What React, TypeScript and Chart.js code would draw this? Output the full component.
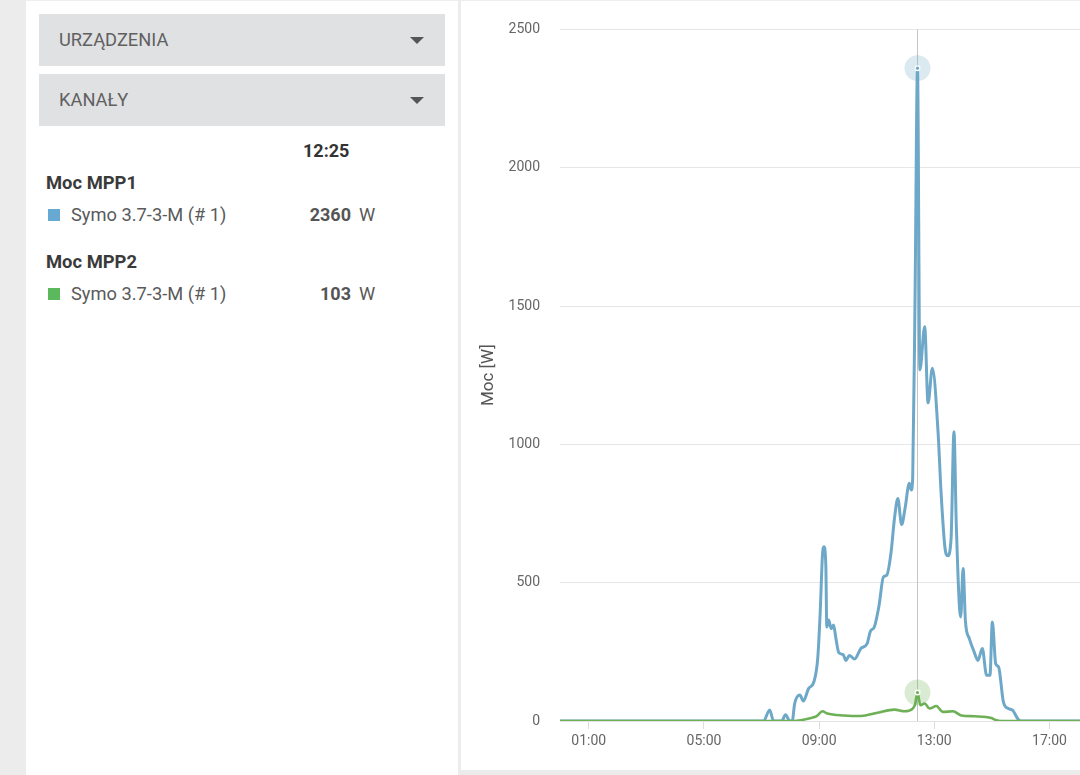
import React, { useEffect, useRef } from "react";
import { Chart, registerables } from "chart.js";

Chart.register(...registerables);

// ---- data ----
const mpp1Times = ["00:00","07:04","07:17","07:25","07:42","07:50","07:59","08:04","08:09","08:20","08:27","08:38","08:49","08:57","09:02","09:07","09:10","09:14","09:16","09:20","09:25","09:30","09:35","09:41","09:50","09:56","10:03","10:14","10:27","10:40","10:47","10:55","11:05","11:14","11:21","11:30","11:37","11:44","11:52","11:59","12:08","12:12","12:15","12:20","12:25","12:30","12:40","12:47","12:56","13:08","13:14","13:22","13:28","13:35","13:41","13:46","13:55","14:00","14:05","14:13","14:23","14:31","14:40","14:49","14:56","15:01","15:08","15:14","15:24","15:34","15:43","15:54","16:00","24:00"];
const mpp1Values = [0,0,40,0,0,23,0,0,63,94,72,117,141,225,383,600,630,560,340,365,334,347,298,247,240,219,237,224,262,280,325,340,419,521,527,611,732,804,710,768,859,835,880,1550,2360,1269,1425,1150,1275,1040,830,630,597,660,1046,700,376,551,358,298,250,219,262,165,165,358,207,195,69,45,39,8,0,0];

const mpp2Times = ["00:00","08:07","08:43","08:55","09:07","09:17","09:52","10:27","11:02","11:37","11:58","12:15","12:20","12:25","12:31","12:40","12:50","13:04","13:18","13:39","13:56","14:24","14:59","15:06","15:20","24:00"];
const mpp2Values = [0,0,11,18,35,27,20,18,30,41,35,45,60,103,57,63,45,54,33,35,20,17,11,5,0,0];

const xTickHours = [1, 5, 9, 13, 17, 21];
const yTicks = [0, 500, 1000, 1500, 2000, 2500];
const cursorTime = "12:25";

const seriesNames = ["Moc MPP1", "Moc MPP2"];
const deviceName = "Symo 3.7-3-M (# 1)";
const cursorValues = [2360, 103];

const BLUE_LINE = "#6ea8c8";
const GREEN_LINE = "#6db055";
const BLUE_SQ = "#66aad4";
const GREEN_SQ = "#5cb85c";

const toHours = (t: string) => {
  const [h, m] = t.split(":").map(Number);
  return h + m / 60;
};

const cursorHour = toHours(cursorTime);

const haloColors = ["rgba(110,168,200,0.25)", "rgba(109,176,85,0.25)"];

const cursorPlugin = {
  id: "cursorPlugin",
  beforeDatasetsDraw(chart: any) {
    const { ctx, chartArea, scales } = chart;
    const x = scales.x.getPixelForValue(cursorHour);
    ctx.save();
    ctx.strokeStyle = "#c4c4c4";
    ctx.lineWidth = 1;
    ctx.beginPath();
    ctx.moveTo(Math.round(x) + 0.5, chartArea.top);
    ctx.lineTo(Math.round(x) + 0.5, chartArea.bottom);
    ctx.stroke();
    ctx.restore();
  },
  afterDatasetsDraw(chart: any) {
    const { ctx, scales } = chart;
    chart.data.datasets.forEach((ds: any, i: number) => {
      const pt = ds.data.find((p: any) => Math.abs(p.x - cursorHour) < 1e-6);
      if (!pt) return;
      const x = scales.x.getPixelForValue(pt.x);
      const y = scales.y.getPixelForValue(pt.y);
      ctx.save();
      ctx.fillStyle = haloColors[i];
      ctx.beginPath();
      ctx.arc(x, y, 13, 0, Math.PI * 2);
      ctx.fill();
      ctx.fillStyle = "#ffffff";
      ctx.beginPath();
      ctx.arc(x, y, 3, 0, Math.PI * 2);
      ctx.fill();
      ctx.fillStyle = ds.borderColor;
      ctx.beginPath();
      ctx.arc(x, y, 1.6, 0, Math.PI * 2);
      ctx.fill();
      ctx.restore();
    });
  },
};

const Dropdown = ({ label, top }: { label: string; top: number }) => (
  <div
    style={{
      position: "absolute",
      left: 39,
      top,
      width: 406,
      height: 52,
      background: "#e0e1e3",
    }}
  >
    <div
      style={{
        position: "absolute",
        left: 20,
        top: 0,
        height: 52,
        lineHeight: "52px",
        fontSize: 18.3,
        color: "#606060",
        whiteSpace: "nowrap",
      }}
    >
      {label}
    </div>
    <div
      style={{
        position: "absolute",
        left: 371,
        top: 23,
        width: 0,
        height: 0,
        borderLeft: "7px solid transparent",
        borderRight: "7px solid transparent",
        borderTop: "7px solid #555",
      }}
    />
  </div>
);

const Row = ({ top, color, value }: { top: number; color: string; value: number }) => (
  <>
    <div style={{ position: "absolute", left: 48, top: top - 6, width: 12, height: 12, background: color }} />
    <div style={{ position: "absolute", left: 71, top: top - 11, lineHeight: "22px", fontSize: 18.3, color: "#5a5a5a", whiteSpace: "nowrap" }}>
      {deviceName}
    </div>
    <div style={{ position: "absolute", left: 251, width: 100, textAlign: "right", top: top - 11, lineHeight: "22px", fontSize: 18, fontWeight: 700, color: "#555" }}>
      {value}
    </div>
    <div style={{ position: "absolute", left: 359, top: top - 11, lineHeight: "22px", fontSize: 18.3, color: "#5a5a5a" }}>W</div>
  </>
);

export default function App() {
  const canvasRef = useRef<HTMLCanvasElement | null>(null);

  useEffect(() => {
    if (!canvasRef.current) return;
    Chart.defaults.font.family = "Roboto";
    const chart = new Chart(canvasRef.current, {
      type: "line",
      data: {
        datasets: [
          {
            label: seriesNames[0],
            data: mpp1Times.map((t, i) => ({ x: toHours(t), y: mpp1Values[i] })),
            borderColor: BLUE_LINE,
            borderWidth: 3,
            pointRadius: 0,
            cubicInterpolationMode: "monotone",
            fill: false,
            order: 1,
          },
          {
            label: seriesNames[1],
            data: mpp2Times.map((t, i) => ({ x: toHours(t), y: mpp2Values[i] })),
            borderColor: GREEN_LINE,
            borderWidth: 2.6,
            pointRadius: 0,
            cubicInterpolationMode: "monotone",
            fill: false,
            order: 0,
          },
        ],
      },
      options: {
        animation: false,
        responsive: true,
        maintainAspectRatio: false,
        events: [],
        layout: { padding: { top: 28, right: 20, left: 0, bottom: 0 } },
        plugins: { legend: { display: false }, tooltip: { enabled: false } },
        scales: {
          x: {
            type: "linear",
            min: 0,
            max: 24,
            afterBuildTicks: (scale: any) => {
              scale.ticks = xTickHours.map((v) => ({ value: v }));
            },
            afterFit: (scale: any) => {
              scale.height = 50;
            },
            ticks: {
              autoSkip: false,
              maxRotation: 0,
              padding: 4,
              color: "#666",
              font: { size: 14 },
              callback: (v: any) => String(v).padStart(2, "0") + ":00",
            },
            grid: { drawOnChartArea: false, drawTicks: true, tickLength: 8, color: "#dcdcdc" },
            border: { display: true, color: "#e3e3e3" },
          },
          y: {
            min: 0,
            max: 2500,
            afterBuildTicks: (scale: any) => {
              scale.ticks = yTicks.map((v) => ({ value: v }));
            },
            afterFit: (scale: any) => {
              scale.width = 99;
            },
            ticks: {
              padding: 20,
              color: "#666",
              font: { size: 14 },
              callback: (v: any) => String(v),
            },
            grid: { color: "#e6e6e6", drawTicks: false },
            border: { display: false },
            title: {
              display: true,
              text: "Moc [W]",
              color: "#555",
              font: { size: 17 },
              padding: { top: 18, bottom: 0 },
            },
          },
        },
      },
      plugins: [cursorPlugin],
    });
    return () => chart.destroy();
  }, []);

  return (
    <div
      style={{
        position: "fixed",
        left: 0,
        top: 0,
        width: 1080,
        height: 775,
        overflow: "hidden",
        background: "#ebeceb",
        fontFamily: "Roboto, sans-serif",
      }}
    >
      <div style={{ position: "absolute", left: 26, top: 0, width: 432, height: 775, background: "#fff" }}>
        <div style={{ position: "absolute", left: 0, top: 0, width: 432, height: 1, background: "#eeeeee" }} />
      </div>
      <div style={{ position: "absolute", left: 0, top: 0, width: 1080, height: 775 }}>
        <Dropdown label="URZĄDZENIA" top={14} />
        <Dropdown label="KANAŁY" top={74} />
        <div style={{ position: "absolute", left: 303, top: 140, lineHeight: "22px", fontSize: 18, fontWeight: 700, color: "#333" }}>
          {cursorTime}
        </div>
        <div style={{ position: "absolute", left: 46, top: 172, lineHeight: "22px", fontSize: 18.4, fontWeight: 700, color: "#3a3a3a" }}>
          {seriesNames[0]}
        </div>
        <Row top={215} color={BLUE_SQ} value={cursorValues[0]} />
        <div style={{ position: "absolute", left: 46, top: 251, lineHeight: "22px", fontSize: 18.4, fontWeight: 700, color: "#3a3a3a" }}>
          {seriesNames[1]}
        </div>
        <Row top={294} color={GREEN_SQ} value={cursorValues[1]} />
      </div>
      <div
        style={{
          position: "absolute",
          left: 461,
          top: 0,
          width: 830,
          height: 770,
          background: "#fff",
          borderTop: "1px solid #eeeeee",
          boxSizing: "border-box",
        }}
      >
        <div style={{ position: "absolute", left: 0, top: 0, width: 810, height: 770 }}>
          <canvas ref={canvasRef} />
        </div>
      </div>
    </div>
  );
}
